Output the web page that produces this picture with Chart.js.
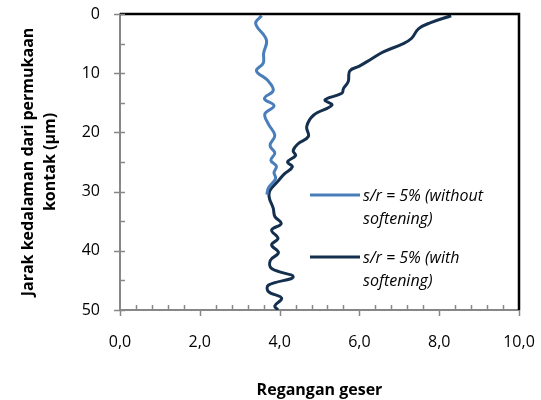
<!DOCTYPE html>
<html>
<head>
<meta charset="utf-8">
<script src="https://cdn.jsdelivr.net/npm/chart.js@4.4.1/dist/chart.umd.min.js"></script>
<style>
  html, body { margin: 0; padding: 0; background: #fff; }
</style>
</head>
<body>
<canvas id="shearChart" width="541" height="400"></canvas>
<script>
// depth (µm) and shear strain
const depthNoSoft = [0.3, 1.6, 4.4, 6.6, 8.3, 9.6, 11.2, 12.9, 14.3, 15.5, 16.9, 18.6, 20.5, 22.2, 23.5, 24.7, 25.7, 26.8, 27.8, 29.4, 30.5];
const strainNoSoft = [3.55, 3.40, 3.67, 3.60, 3.59, 3.42, 3.70, 3.84, 3.62, 3.86, 3.63, 3.72, 3.88, 3.76, 3.88, 3.78, 3.92, 3.86, 3.90, 3.72, 3.68];

const depthSoft = [0.3, 1.5, 2.5, 4.1, 5.0, 6.4, 7.6, 8.8, 9.6, 11.4, 12.6, 13.4, 14.5, 15.4, 17.1, 19.0, 20.7, 22.0, 23.1, 23.9, 25.0, 25.8, 27.0, 28.3, 29.8, 31.0, 32.8, 34.2, 35.4, 36.5, 37.9, 39.0, 40.3, 41.6, 43.0, 44.4, 45.8, 46.9, 48.0, 49.3, 50.0];
const strainSoft = [8.30, 7.77, 7.48, 7.31, 7.10, 6.60, 6.30, 6.00, 5.76, 5.72, 5.60, 5.56, 5.14, 5.31, 4.85, 4.68, 4.72, 4.45, 4.34, 4.40, 4.20, 4.32, 4.12, 3.95, 3.76, 3.74, 3.84, 3.88, 4.04, 3.80, 3.96, 3.80, 3.97, 3.77, 3.80, 4.34, 3.72, 3.72, 4.05, 3.88, 3.96];

const labelNoSoft = 's/r = 5% (without softening)';
const labelSoft = 's/r = 5% (with softening)';

const toPoints = (xs, ys) => xs.map((x, i) => ({ x: x, y: ys[i] }));
const fmtComma = v => v.toFixed(1).replace('.', ',');

const FONT = "'Open Sans', sans-serif";
const AXIS_GREY = '#878787';

// top/right black frame plus excel style tick marks
const framePlugin = {
    id: 'frame',
    afterDraw(chart) {
        const { ctx, chartArea: a, scales } = chart;
        ctx.save();
        ctx.strokeStyle = '#000';
        ctx.lineWidth = 2.5;
        ctx.beginPath();
        ctx.moveTo(a.left, a.top);
        ctx.lineTo(a.right, a.top);
        ctx.lineTo(a.right, a.bottom);
        ctx.stroke();

        ctx.strokeStyle = AXIS_GREY;
        ctx.lineWidth = 1.5;
        ctx.beginPath();
        for (let v = 0; v <= 50; v += 5) {
            const y = Math.round(scales.y.getPixelForValue(v)) + 0.5;
            const major = v % 10 === 0;
            ctx.moveTo(a.left - (major ? 6 : 0), y);
            ctx.lineTo(a.left + 5, y);
        }
        for (let i = 0; i <= 25; i++) {
            const v = i * 0.4;
            const x = Math.round(scales.x.getPixelForValue(v)) + 0.5;
            if (i % 5 === 0) {
                ctx.moveTo(x, a.bottom);
                ctx.lineTo(x, a.bottom + 6);
            } else {
                ctx.moveTo(x, a.bottom - 5);
                ctx.lineTo(x, a.bottom);
            }
        }
        ctx.stroke();
        ctx.restore();
    }
};

// legend inside the plot, wrapped labels
const insideLegend = {
    id: 'insideLegend',
    afterDraw(chart) {
        const { ctx, chartArea: a } = chart;
        ctx.save();
        ctx.font = 'italic 16px ' + FONT;
        ctx.fillStyle = '#000';
        ctx.textBaseline = 'middle';
        const rows = [a.top + 181, a.top + 243];
        chart.data.datasets.forEach((ds, i) => {
            const y = rows[i];
            ctx.strokeStyle = ds.borderColor;
            ctx.lineWidth = 3;
            ctx.beginPath();
            ctx.moveTo(a.left + 190, y);
            ctx.lineTo(a.left + 240, y);
            ctx.stroke();
            // word wrap
            const words = ds.label.split(' ');
            const lines = [];
            let cur = '';
            words.forEach(w => {
                const test = cur ? cur + ' ' + w : w;
                if (ctx.measureText(test).width > 150 && cur) {
                    lines.push(cur);
                    cur = w;
                } else {
                    cur = test;
                }
            });
            lines.push(cur);
            lines.forEach((t, j) => ctx.fillText(t, a.left + 243, y + 1 + j * 23));
        });
        ctx.restore();
    }
};

new Chart(document.getElementById('shearChart'), {
    type: 'scatter',
    data: {
        datasets: [{
            label: labelNoSoft,
            data: toPoints(strainNoSoft, depthNoSoft),
            showLine: true,
            borderColor: '#4A7EBB',
            borderWidth: 3,
            pointRadius: 0,
            tension: 0.4
        }, {
            label: labelSoft,
            data: toPoints(strainSoft, depthSoft),
            showLine: true,
            borderColor: '#15304F',
            borderWidth: 3,
            pointRadius: 0,
            tension: 0.4
        }]
    },
    options: {
        responsive: false,
        animation: false,
        layout: { padding: { top: 14, right: 22, left: 0, bottom: 0 } },
        scales: {
            x: {
                type: 'linear',
                min: 0,
                max: 10,
                afterFit: s => { s.height = 90; s.paddingLeft = 0; s.paddingRight = 0; },
                grid: { display: false },
                border: { color: AXIS_GREY, width: 2 },
                ticks: {
                    stepSize: 2,
                    padding: 15,
                    color: '#000',
                    font: { family: FONT, size: 16 },
                    callback: v => fmtComma(v)
                },
                title: {
                    display: true,
                    text: 'Regangan geser',
                    color: '#000',
                    font: { family: FONT, size: 16, weight: 'bold' },
                    padding: { top: 0, bottom: 0 }
                }
            },
            y: {
                type: 'linear',
                reverse: true,
                min: 0,
                max: 50,
                afterFit: s => { s.width = 120; s.paddingTop = 0; s.paddingBottom = 0; },
                grid: { display: false },
                border: { color: AXIS_GREY, width: 2 },
                ticks: {
                    stepSize: 10,
                    padding: 12,
                    color: '#000',
                    font: { family: FONT, size: 16 }
                },
                title: {
                    display: true,
                    text: ['Jarak kedalaman dari permukaan', 'kontak (µm)'],
                    color: '#000',
                    font: { family: FONT, size: 16, weight: 'bold', lineHeight: 1.375 },
                    padding: { top: 17, bottom: 0 }
                }
            }
        },
        plugins: {
            legend: { display: false },
            tooltip: { enabled: false }
        }
    },
    plugins: [framePlugin, insideLegend]
});
</script>
</body>
</html>
